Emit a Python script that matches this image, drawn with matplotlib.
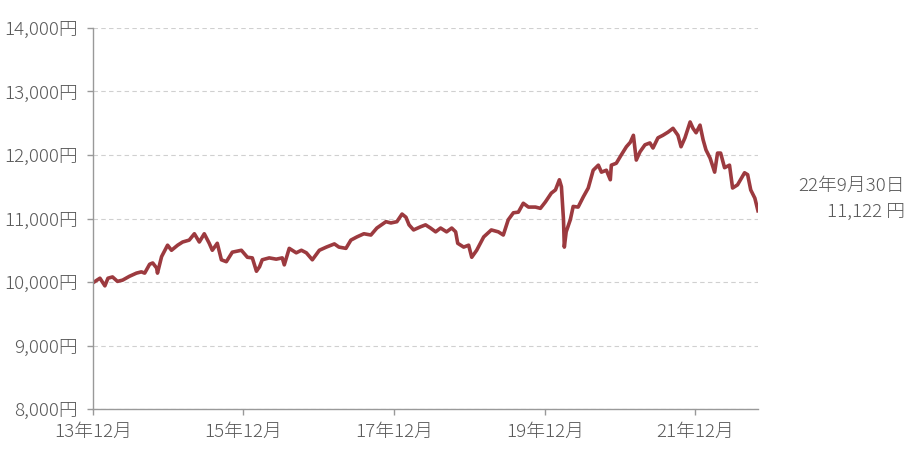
import matplotlib
matplotlib.use("Agg")
import matplotlib.pyplot as plt
import pandas as pd

plt.rcParams['font.family'] = ['Noto Sans CJK JP', 'DejaVu Sans']
plt.rcParams['font.weight'] = 'light'

# 基準価額の推移
dates = [
    "2013-12-02", "2014-01-04", "2014-01-28", "2014-02-12", "2014-03-06", "2014-03-30",
    "2014-04-24", "2014-05-27", "2014-06-30", "2014-07-24", "2014-08-09", "2014-09-02",
    "2014-09-17", "2014-10-06", "2014-10-10", "2014-10-30", "2014-11-28", "2014-12-17",
    "2015-01-16", "2015-02-09", "2015-03-13", "2015-04-07", "2015-05-01", "2015-05-25",
    "2015-06-18", "2015-07-03", "2015-07-27", "2015-08-16", "2015-09-09", "2015-10-08",
    "2015-11-21", "2015-12-20", "2016-01-13", "2016-02-02", "2016-02-17", "2016-03-01",
    "2016-04-04", "2016-05-08", "2016-06-06", "2016-06-16", "2016-07-10", "2016-08-13",
    "2016-09-07", "2016-10-01", "2016-10-30", "2016-12-03", "2017-01-06", "2017-02-14",
    "2017-03-08", "2017-04-11", "2017-05-05", "2017-06-03", "2017-07-07", "2017-08-10",
    "2017-09-08", "2017-10-22", "2017-11-15", "2017-12-14", "2018-01-08", "2018-01-27",
    "2018-02-11", "2018-03-05", "2018-04-08", "2018-05-02", "2018-05-26", "2018-06-20",
    "2018-07-14", "2018-08-12", "2018-09-06", "2018-09-25", "2018-10-05", "2018-11-03",
    "2018-11-27", "2018-12-12", "2019-01-05", "2019-02-08", "2019-03-17", "2019-04-20",
    "2019-05-14", "2019-06-07", "2019-07-02", "2019-07-26", "2019-08-19", "2019-09-13",
    "2019-10-17", "2019-11-10", "2019-12-04", "2020-01-02", "2020-01-22", "2020-02-10",
    "2020-02-20", "2020-03-01", "2020-03-05", "2020-03-14", "2020-04-03", "2020-04-17",
    "2020-05-11", "2020-06-05", "2020-06-29", "2020-07-23", "2020-08-17", "2020-09-01",
    "2020-09-25", "2020-10-14", "2020-10-19", "2020-11-12", "2020-12-06", "2020-12-31",
    "2021-01-19", "2021-02-03", "2021-02-17", "2021-03-07", "2021-03-31", "2021-04-24",
    "2021-05-09", "2021-06-02", "2021-06-26", "2021-07-21", "2021-08-14", "2021-09-07",
    "2021-09-22", "2021-10-11", "2021-11-05", "2021-11-19", "2021-12-04", "2021-12-23",
    "2022-01-07", "2022-01-21", "2022-02-10", "2022-03-04", "2022-03-18", "2022-04-02",
    "2022-04-21", "2022-05-15", "2022-05-30", "2022-06-23", "2022-07-27", "2022-08-11",
    "2022-08-26", "2022-09-15", "2022-09-30",
]
nav = [
    9990, 10060, 9940, 10060, 10080, 10010,
    10030, 10090, 10140, 10160, 10140, 10280,
    10300, 10220, 10140, 10400, 10580, 10500,
    10580, 10630, 10660, 10760, 10630, 10760,
    10610, 10500, 10610, 10350, 10320, 10470,
    10500, 10390, 10380, 10170, 10240, 10350,
    10380, 10360, 10380, 10270, 10530, 10460,
    10500, 10460, 10350, 10500, 10550, 10600,
    10550, 10530, 10660, 10710, 10760, 10740,
    10850, 10950, 10930, 10950, 11070, 11020,
    10900, 10820, 10870, 10900, 10850, 10790,
    10850, 10790, 10850, 10790, 10610, 10550,
    10580, 10390, 10500, 10710, 10820, 10790,
    10740, 10980, 11090, 11100, 11240, 11180,
    11180, 11160, 11260, 11400, 11450, 11610,
    11500, 10980, 10550, 10790, 10980, 11190,
    11180, 11340, 11480, 11760, 11840, 11730,
    11760, 11610, 11840, 11870, 12000, 12130,
    12200, 12310, 11920, 12050, 12160, 12190,
    12110, 12270, 12310, 12360, 12420, 12310,
    12130, 12270, 12520, 12420, 12350, 12470,
    12240, 12080, 11950, 11730, 12030, 12030,
    11800, 11840, 11480, 11530, 11720, 11690,
    11450, 11320, 11122,
]
y_ticks = [8000, 9000, 10000, 11000, 12000, 13000, 14000]
x_ticks = ["2013-12-01", "2015-12-01", "2017-12-01", "2019-12-01", "2021-12-01"]
x_labels = ["13年12月", "15年12月", "17年12月", "19年12月", "21年12月"]
last_label = "22年9月30日"
last_value = "11,122 円"

df = pd.DataFrame({"date": pd.to_datetime(dates), "nav": nav})

fig = plt.figure(figsize=(9.11, 4.51), dpi=100)
ax = fig.add_axes([0.102, 0.093, 0.730, 0.845])

ax.plot(df["date"], df["nav"], color="#9c3a3f", lw=2.6, solid_joinstyle="round")

ax.set_ylim(8000, 14000)
ax.set_xlim(pd.Timestamp("2013-12-01"), pd.Timestamp("2022-09-30"))
ax.set_yticks(y_ticks)
ax.set_yticklabels([f"{v:,}円" for v in y_ticks])
ax.set_xticks(pd.to_datetime(x_ticks))
ax.set_xticklabels(x_labels)

ax.grid(axis="y", color="#d0d0d0", linestyle=(0, (4, 3)), lw=0.8)
ax.set_axisbelow(True)
for side in ["top", "right"]:
    ax.spines[side].set_visible(False)
for side in ["left", "bottom"]:
    ax.spines[side].set_color("#999999")
    ax.spines[side].set_linewidth(1.0)
ax.tick_params(axis="both", colors="#999999", length=4, width=1.0,
               labelcolor="#595959", labelsize=13.5)
ax.tick_params(axis="y", pad=7)
ax.tick_params(axis="x", pad=6)

fig.text(0.993, 0.588, last_label, ha="right", va="center", fontsize=13.5, color="#595959")
fig.text(0.993, 0.530, last_value, ha="right", va="center", fontsize=13.5, color="#595959")

fig.savefig("out.png", dpi=100)
